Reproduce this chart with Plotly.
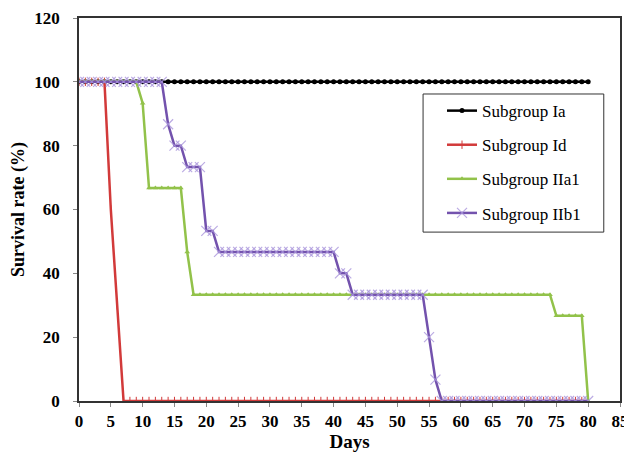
import plotly.graph_objects as go

days = [0, 1, 2, 3, 4, 5, 6, 7, 8, 9, 10, 11, 12, 13, 14, 15, 16, 17, 18, 19, 20,
        21, 22, 23, 24, 25, 26, 27, 28, 29, 30, 31, 32, 33, 34, 35, 36, 37, 38, 39, 40,
        41, 42, 43, 44, 45, 46, 47, 48, 49, 50, 51, 52, 53, 54, 55, 56, 57, 58, 59, 60,
        61, 62, 63, 64, 65, 66, 67, 68, 69, 70, 71, 72, 73, 74, 75, 76, 77, 78, 79, 80]

subgroup_Ia = [100, 100, 100, 100, 100, 100, 100, 100, 100, 100, 100,
               100, 100, 100, 100, 100, 100, 100, 100, 100, 100,
               100, 100, 100, 100, 100, 100, 100, 100, 100, 100,
               100, 100, 100, 100, 100, 100, 100, 100, 100, 100,
               100, 100, 100, 100, 100, 100, 100, 100, 100, 100,
               100, 100, 100, 100, 100, 100, 100, 100, 100, 100,
               100, 100, 100, 100, 100, 100, 100, 100, 100, 100,
               100, 100, 100, 100, 100, 100, 100, 100, 100, 100]

subgroup_Id = [100, 100, 100, 100, 100, 60, 30, 0, 0, 0, 0,
               0, 0, 0, 0, 0, 0, 0, 0, 0, 0,
               0, 0, 0, 0, 0, 0, 0, 0, 0, 0,
               0, 0, 0, 0, 0, 0, 0, 0, 0, 0,
               0, 0, 0, 0, 0, 0, 0, 0, 0, 0,
               0, 0, 0, 0, 0, 0, 0, 0, 0, 0,
               0, 0, 0, 0, 0, 0, 0, 0, 0, 0,
               0, 0, 0, 0, 0, 0, 0, 0, 0, 0]

subgroup_IIa1 = [100, 100, 100, 100, 100, 100, 100, 100, 100, 100, 93.3,
                 66.7, 66.7, 66.7, 66.7, 66.7, 66.7, 46.7, 33.3, 33.3, 33.3,
                 33.3, 33.3, 33.3, 33.3, 33.3, 33.3, 33.3, 33.3, 33.3, 33.3,
                 33.3, 33.3, 33.3, 33.3, 33.3, 33.3, 33.3, 33.3, 33.3, 33.3,
                 33.3, 33.3, 33.3, 33.3, 33.3, 33.3, 33.3, 33.3, 33.3, 33.3,
                 33.3, 33.3, 33.3, 33.3, 33.3, 33.3, 33.3, 33.3, 33.3, 33.3,
                 33.3, 33.3, 33.3, 33.3, 33.3, 33.3, 33.3, 33.3, 33.3, 33.3,
                 33.3, 33.3, 33.3, 33.3, 26.7, 26.7, 26.7, 26.7, 26.7, 0]

subgroup_IIb1 = [100, 100, 100, 100, 100, 100, 100, 100, 100, 100, 100,
                 100, 100, 100, 86.7, 80, 80, 73.3, 73.3, 73.3, 53.3,
                 53.3, 46.7, 46.7, 46.7, 46.7, 46.7, 46.7, 46.7, 46.7, 46.7,
                 46.7, 46.7, 46.7, 46.7, 46.7, 46.7, 46.7, 46.7, 46.7, 46.7,
                 40, 40, 33.3, 33.3, 33.3, 33.3, 33.3, 33.3, 33.3, 33.3,
                 33.3, 33.3, 33.3, 33.3, 20, 6.7, 0, 0, 0, 0,
                 0, 0, 0, 0, 0, 0, 0, 0, 0, 0,
                 0, 0, 0, 0, 0, 0, 0, 0, 0, 0]

x_ticks = [0, 5, 10, 15, 20, 25, 30, 35, 40, 45, 50, 55, 60, 65, 70, 75, 80, 85]
y_ticks = [0, 20, 40, 60, 80, 100, 120]

FONT = "Liberation Serif"

fig = go.Figure()
fig.add_trace(go.Scatter(
    x=days, y=subgroup_Ia, name="Subgroup Ia", mode="lines+markers", legendgroup="a",
    line=dict(color="#000000", width=2.5),
    marker=dict(symbol="circle", size=5, color="#000000")))
fig.add_trace(go.Scatter(
    x=days, y=subgroup_Id, name="Subgroup Id", mode="lines+markers", legendgroup="b",
    line=dict(color="#d23a3a", width=2.5),
    marker=dict(symbol="line-ns", size=6, color="#d23a3a", line=dict(color="#d23a3a", width=1))))
fig.add_trace(go.Scatter(
    x=days, y=subgroup_IIa1, name="Subgroup IIa1", mode="lines+markers", legendgroup="c",
    line=dict(color="#92c24a", width=2.5),
    marker=dict(symbol="triangle-up", size=5, color="#92c24a")))
fig.add_trace(go.Scatter(
    x=days, y=subgroup_IIb1, name="Subgroup IIb1", mode="lines+markers", legendgroup="d",
    line=dict(color="#7352ad", width=2.5),
    marker=dict(symbol="x-thin", size=10, color="rgba(170,150,220,0.8)",
                line=dict(color="rgba(170,150,220,0.8)", width=1.2))))

axis_common = dict(
    showgrid=False, zeroline=False, showline=True, mirror=True, automargin=False,
    linecolor="#333333", linewidth=1.5, ticks="outside", ticklen=4,
    tickcolor="#888888", tickfont=dict(family=FONT, size=17, color="#000000"),
)

# page body has an 8px offset; figure sized so the plot area lands where the reference has it
fig.update_layout(
    width=624, height=450,
    margin=dict(l=71, r=12, t=10, b=57),
    paper_bgcolor="white", plot_bgcolor="white",
    font=dict(family=FONT, color="#000000"),
    xaxis=dict(range=[0, 85], tickvals=x_ticks,
               ticktext=["<b>%d</b>" % v for v in x_ticks],
               title=dict(text="<b>Days</b>", font=dict(family=FONT, size=19), standoff=2),
               **axis_common),
    yaxis=dict(range=[0, 120], tickvals=y_ticks,
               ticktext=["<b>%d</b>" % v for v in y_ticks],
               ticklabelstandoff=10,
               title=dict(text="<b>Survival rate (%)</b>", font=dict(family=FONT, size=18), standoff=7),
               **axis_common),
    legend=dict(x=0.671, y=0.804, xanchor="left", yanchor="top",
                bgcolor="rgba(0,0,0,0)", borderwidth=0,
                font=dict(family=FONT, size=17, color="#000000"),
                tracegroupgap=9, itemwidth=30),
    shapes=[dict(type="rect", xref="paper", yref="paper",
                 x0=0.636, x1=0.970, y0=0.441, y1=0.8016,
                 line=dict(color="#333333", width=1), fillcolor="white", layer="below")],
)

fig.write_html("out.html")
